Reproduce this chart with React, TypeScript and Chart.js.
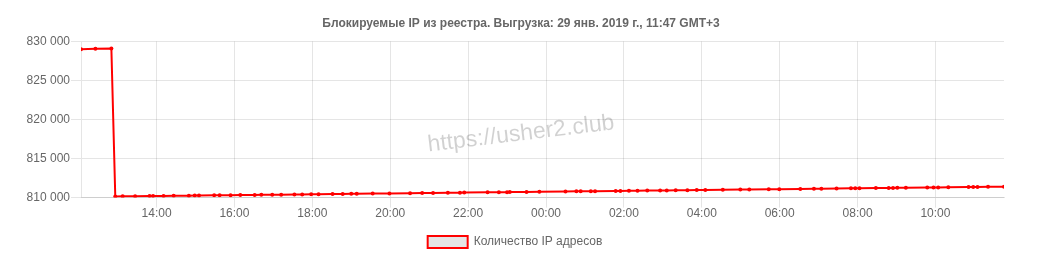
import React, { useEffect, useRef } from "react";
import { Chart, registerables } from "chart.js";

Chart.register(...registerables);

const chartTitle = "Блокируемые IP из реестра. Выгрузка: 29 янв. 2019 г., 11:47 GMT+3";
const seriesLabel = "Количество IP адресов";
const watermarkText = "https://usher2.club";

// hours since 00:00 of the first day (values > 24 are the next day)
const hours = [
  12.06, 12.43, 12.84, 12.94, 13.13, 13.45, 13.82, 13.91, 14.18, 14.44, 14.83, 14.98,
  15.09, 15.48, 15.62, 15.90, 16.15, 16.52, 16.69, 16.97, 17.20, 17.54, 17.74, 17.97,
  18.16, 18.52, 18.78, 19.00, 19.14, 19.55, 19.98, 20.51, 20.82, 21.10, 21.48, 21.79,
  21.90, 22.50, 22.79, 23.00, 23.07, 23.50, 23.83, 24.50, 24.78, 24.89, 25.15, 25.26,
  25.79, 25.91, 26.13, 26.35, 26.60, 26.93, 27.10, 27.33, 27.63, 27.87, 28.09, 28.54,
  28.99, 29.22, 29.72, 29.99, 30.53, 30.88, 31.07, 31.46, 31.83, 31.94, 32.05, 32.47,
  32.80, 32.91, 33.02, 33.24, 33.79, 33.95, 34.07, 34.33, 34.85, 34.97, 35.08, 35.35,
  35.76,
];

const ipCounts = [
  829000, 829050, 829100, 810150, 810160, 810180, 810200, 810200, 810215, 810230, 810250, 810260,
  810265, 810290, 810295, 810310, 810325, 810345, 810355, 810370, 810380, 810400, 810410, 810420,
  810430, 810455, 810470, 810480, 810490, 810510, 810535, 810565, 810580, 810595, 810620, 810635,
  810640, 810675, 810690, 810700, 810705, 810730, 810745, 810785, 810800, 810805, 810820, 810825,
  810855, 810860, 810875, 810885, 810900, 810915, 810925, 810940, 810955, 810970, 810980, 811005,
  811030, 811040, 811070, 811085, 811115, 811135, 811145, 811165, 811185, 811190, 811195, 811220,
  811240, 811245, 811250, 811260, 811290, 811300, 811305, 811320, 811350, 811355, 811360, 811375,
  811400,
];

const xTickHours = [14, 16, 18, 20, 22, 24, 26, 28, 30, 32, 34];
const yMin = 810000;
const yMax = 830000;
const yStep = 5000;

const fmtThousands = (v: number) =>
  String(Math.round(v)).replace(/\B(?=(\d{3})+(?!\d))/g, " ");
const fmtHour = (h: number) => {
  const hh = Math.round(h) % 24;
  return (hh < 10 ? "0" : "") + hh + ":00";
};

const watermarkPlugin = {
  id: "watermark",
  afterLayout(chart: any) {
    if (chart.legend) {
      chart.legend.left -= 6;
      chart.legend.right -= 6;
    }
  },
  beforeDatasetsDraw(chart: any) {
    const { ctx } = chart;
    ctx.save();
    ctx.translate(513, 126);
    ctx.rotate((-6.8 * Math.PI) / 180);
    ctx.font = "23px 'Helvetica Neue', Helvetica, Arial, sans-serif";
    ctx.fillStyle = "rgba(0,0,0,0.18)";
    ctx.textAlign = "center";
    ctx.textBaseline = "middle";
    ctx.fillText(watermarkText, 0, 0);
    ctx.restore();
  },
};

export default function App() {
  const ref = useRef<HTMLCanvasElement | null>(null);

  useEffect(() => {
    if (!ref.current) return;
    Chart.defaults.font.family = "'Helvetica Neue', Helvetica, Arial, sans-serif";
    Chart.defaults.font.size = 12;
    Chart.defaults.color = "#666";

    const chart = new Chart(ref.current, {
      type: "line",
      data: {
        datasets: [
          {
            label: seriesLabel,
            data: hours.map((h, i) => ({ x: h, y: ipCounts[i] })),
            borderColor: "#ff0000",
            backgroundColor: "rgba(0,0,0,0.1)",
            borderWidth: 2,
            pointRadius: 2,
            pointBackgroundColor: "#ff0000",
            pointBorderColor: "#ff0000",
            pointBorderWidth: 0,
            tension: 0,
            fill: false,
          },
        ],
      },
      options: {
        animation: false,
        responsive: true,
        maintainAspectRatio: false,
        layout: { padding: { left: 0, right: 0, top: 0, bottom: -5 } },
        plugins: {
          title: {
            display: true,
            text: chartTitle,
            font: { size: 12, weight: "bold" },
            color: "#666",
            padding: { top: 8, bottom: 11 },
          },
          legend: {
            position: "bottom",
            labels: { boxWidth: 40, boxHeight: 12, padding: 16, color: "#666" },
          },
          tooltip: { enabled: false },
        },
        scales: {
          x: {
            type: "linear",
            min: hours[0],
            max: hours[hours.length - 1],
            afterBuildTicks: (axis: any) => {
              axis.ticks = xTickHours.map((v) => ({ value: v }));
            },
            ticks: {
              callback: (v: any) => fmtHour(Number(v)),
              autoSkip: false,
              maxRotation: 0,
              padding: -1,
            },
            grid: { color: "rgba(0,0,0,0.1)", tickLength: 10 },
            border: { color: "rgba(0,0,0,0.1)" },
          },
          y: {
            min: yMin,
            max: yMax,
            afterFit: (axis: any) => {
              axis.width = 73;
            },
            ticks: {
              stepSize: yStep,
              callback: (v: any) => fmtThousands(Number(v)),
              padding: 1,
            },
            grid: { color: "rgba(0,0,0,0.1)", tickLength: 10 },
            border: { color: "rgba(0,0,0,0.1)" },
          },
          yRightSpace: {
            position: "right",
            display: true,
            grid: { display: false, drawTicks: false },
            ticks: { display: false },
            border: { display: false },
            afterFit: (axis: any) => {
              axis.width = 30;
            },
          },
        },
      },
      plugins: [watermarkPlugin],
    });
    return () => chart.destroy();
  }, []);

  return (
    <div style={{ position: "relative", width: "100%", height: 245 }}>
      <canvas ref={ref} />
    </div>
  );
}
